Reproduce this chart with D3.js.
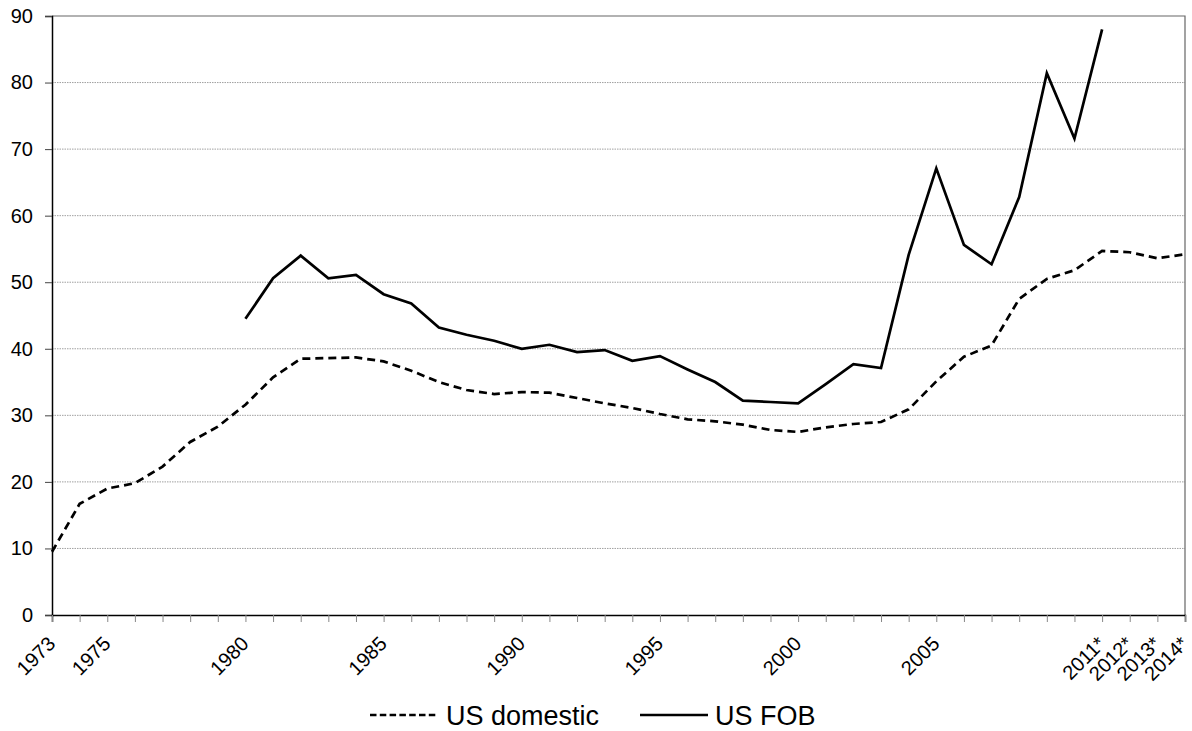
<!DOCTYPE html>
<html>
<head>
<meta charset="utf-8">
<script src="https://cdn.jsdelivr.net/npm/d3@7"></script>
<style>
  html, body { margin: 0; padding: 0; background: #fff; }
  svg { display: block; font-family: Arial, "Liberation Sans", sans-serif; }
</style>
</head>
<body>
<svg id="chart" width="1192" height="731"></svg>
<script>
const years = d3.range(1973, 2015);
const tickLabels = {1973: "1973", 1975: "1975", 1980: "1980", 1985: "1985", 1990: "1990",
  1995: "1995", 2000: "2000", 2005: "2005", 2011: "2011*", 2012: "2012*", 2013: "2013*", 2014: "2014*"};
const yTicks = [0, 10, 20, 30, 40, 50, 60, 70, 80, 90];

// US domestic, 1973..2014
const usDomestic = [9.5, 16.7, 19.0, 19.8, 22.3, 26.0, 28.3, 31.6, 35.7, 38.5,
  38.6, 38.7, 38.1, 36.7, 35.0, 33.8, 33.2, 33.5, 33.4, 32.6,
  31.8, 31.1, 30.2, 29.4, 29.1, 28.6, 27.8, 27.5, 28.2, 28.7,
  29.0, 30.9, 35.1, 38.8, 40.5, 47.5, 50.5, 51.8, 54.7, 54.5,
  53.6, 54.2];
// US FOB, 1980..2011
const fobYears = d3.range(1980, 2012);
const usFOB = [44.5, 50.6, 54.0, 50.6, 51.1, 48.2, 46.8, 43.2, 42.1, 41.2,
  40.0, 40.6, 39.5, 39.8, 38.2, 38.9, 36.9, 35.0, 32.2, 32.0,
  31.8, 34.7, 37.7, 37.1, 54.1, 67.1, 55.6, 52.7, 62.8, 81.4,
  71.6, 88.0];

const svg = d3.select("#chart");
const m = {left: 52, right: 1185, top: 16, bottom: 615};

const x = d3.scaleLinear().domain([1973, 2014]).range([m.left, m.right]);
const y = d3.scaleLinear().domain([0, 90]).range([m.bottom, m.top]);

// gridlines
svg.append("g").selectAll("line")
  .data(yTicks.filter(v => v > 0 && v < 90))
  .join("line")
  .attr("x1", m.left).attr("x2", m.right)
  .attr("y1", d => y(d)).attr("y2", d => y(d))
  .attr("stroke", "#a0a0a0").attr("stroke-width", 1)
  .attr("stroke-dasharray", "1.5,1");

// plot border (top & right)
svg.append("path")
  .attr("d", `M${m.left},${y(90)}H${m.right}V${m.bottom}`)
  .attr("fill", "none").attr("stroke", "#666").attr("stroke-width", 1.2);

// y axis
const yAxis = svg.append("g").attr("transform", `translate(${m.left},0)`)
  .call(d3.axisLeft(y).tickValues(yTicks).tickSize(7).tickPadding(12).tickFormat(d3.format("d")));
yAxis.select(".domain").attr("stroke", "#000").attr("stroke-width", 1.5);
yAxis.selectAll(".tick line").attr("stroke", "#444");
yAxis.selectAll("text").attr("font-size", 20).attr("fill", "#000")
  .attr("font-family", "Arial, 'Liberation Sans', sans-serif");

// x axis
const xAxis = svg.append("g").attr("transform", `translate(0,${m.bottom})`)
  .call(d3.axisBottom(x).tickValues(years).tickSize(7).tickFormat(d => tickLabels[d] || ""));
xAxis.select(".domain").attr("stroke", "#000").attr("stroke-width", 1.5);
xAxis.selectAll(".tick line").attr("stroke", "#888");
xAxis.selectAll("text")
  .attr("font-size", 20).attr("fill", "#000")
  .attr("font-family", "Arial, 'Liberation Sans', sans-serif")
  .attr("text-anchor", "end")
  .attr("y", 0).attr("dy", 0)
  .attr("transform", "translate(4,30) rotate(-45)");

// lines
const line = d3.line().x(d => x(d[0])).y(d => y(d[1]));
svg.append("path")
  .datum(years.map((yr, i) => [yr, usDomestic[i]]))
  .attr("d", line).attr("fill", "none").attr("stroke", "#000")
  .attr("stroke-width", 2.7).attr("stroke-dasharray", "8,5");
svg.append("path")
  .datum(fobYears.map((yr, i) => [yr, usFOB[i]]))
  .attr("d", line).attr("fill", "none").attr("stroke", "#000")
  .attr("stroke-width", 2.7).attr("stroke-linejoin", "miter");

// legend
const lg = svg.append("g").attr("transform", "translate(0,715)");
lg.append("line").attr("x1", 370).attr("x2", 438).attr("y1", 0).attr("y2", 0)
  .attr("stroke", "#000").attr("stroke-width", 2.5).attr("stroke-dasharray", "6.5,3.3");
lg.append("text").attr("x", 446).attr("y", 0).attr("dy", "0.36em")
  .attr("font-size", 27).text("US domestic");
lg.append("line").attr("x1", 640).attr("x2", 708).attr("y1", 0).attr("y2", 0)
  .attr("stroke", "#000").attr("stroke-width", 2.5);
lg.append("text").attr("x", 715).attr("y", 0).attr("dy", "0.36em")
  .attr("font-size", 27).text("US FOB");
</script>
</body>
</html>
